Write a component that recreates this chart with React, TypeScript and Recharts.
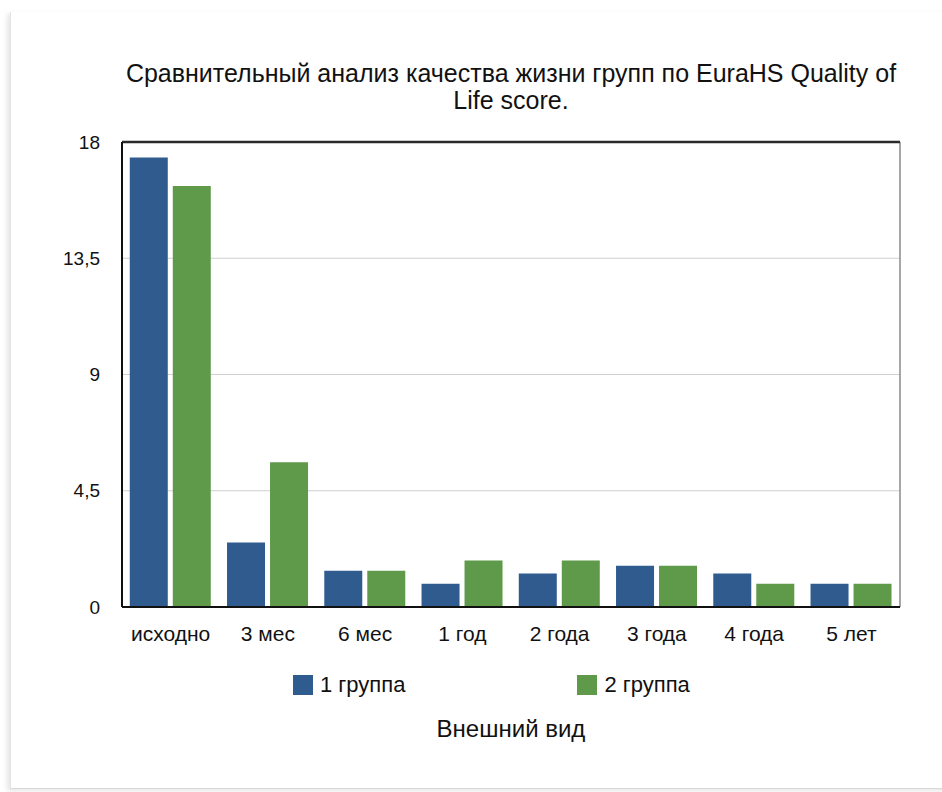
import { Bar, BarChart, CartesianGrid, Label, Legend, ReferenceLine, XAxis, YAxis } from 'recharts';

const categories = ['исходно', '3 мес', '6 мес', '1 год', '2 года', '3 года', '4 года', '5 лет'];
const group1 = [17.4, 2.5, 1.4, 0.9, 1.3, 1.6, 1.3, 0.9];
const group2 = [16.3, 5.6, 1.4, 1.8, 1.8, 1.6, 0.9, 0.9];
const yTicks = [0, 4.5, 9, 13.5, 18];

const BLUE = '#2f5b8f';
const GREEN = '#5e9a4a';
const FONT = '"Liberation Sans", Arial, Helvetica, sans-serif';

const data = categories.map((name, i) => ({ name, g1: group1[i], g2: group2[i] }));

const yTickStyle = { fontSize: 19, fill: '#111', fontFamily: FONT };
const xTickStyle = { fontSize: 21, fill: '#111', fontFamily: FONT };

function LegendRow({ payload }: any) {
  return (
    <div style={{ display: 'flex', gap: 172, fontFamily: FONT, fontSize: 22, lineHeight: '25px', color: '#111' }}>
      {(payload || []).map((p: any) => (
        <div key={p.value} style={{ display: 'flex', alignItems: 'center' }}>
          <span style={{ width: 20, height: 20, background: p.color, display: 'inline-block', marginRight: 7 }} />
          {p.value}
        </div>
      ))}
    </div>
  );
}

// right edge of the plot box, taken from the chart's own offset
const rightEdge = ({ offset }: any) => [offset.left + offset.width];

export default function App() {
  return (
    <div style={{ position: 'absolute', left: 0, top: 0, width: 942, height: 792, background: '#fff', overflow: 'hidden' }}>
      {/* card edge */}
      <div
        style={{
          position: 'absolute',
          left: 10,
          top: 12,
          right: -10,
          bottom: 3,
          borderLeft: '1px solid #e4e4e4',
          borderBottom: '1px solid #d8d8d8',
          boxShadow: '-3px 2px 5px rgba(0,0,0,0.10)',
        }}
      />
      <div
        style={{
          position: 'absolute',
          left: 111,
          top: 60,
          width: 800,
          textAlign: 'center',
          fontFamily: FONT,
          fontSize: 25,
          lineHeight: '27px',
          color: '#111',
          whiteSpace: 'nowrap',
        }}
      >
        Сравнительный анализ качества жизни групп по EuraHS Quality of
        <br />
        Life score.
      </div>
      <div style={{ position: 'absolute', left: 0, top: 0 }}>
        <BarChart
          width={942}
          height={792}
          data={data}
          margin={{ top: 142, right: 42, left: 62, bottom: 50 }}
          barCategoryGap="8%"
          barGap={5}
        >
          <CartesianGrid horizontal vertical={false} stroke="#cfcfcf" strokeWidth={1} />
          <CartesianGrid
            horizontal={false}
            vertical
            verticalCoordinatesGenerator={rightEdge}
            stroke="#8a8a8a"
            strokeWidth={1.5}
          />
          <XAxis
            dataKey="name"
            height={135}
            tick={xTickStyle}
            tickLine={false}
            tickSize={0}
            tickMargin={19}
            axisLine={{ stroke: '#111', strokeWidth: 2 }}
          >
            <Label
              value="Внешний вид"
              position="insideBottom"
              offset={5}
              style={{ fontSize: 24, fill: '#111', fontFamily: FONT }}
            />
          </XAxis>
          <YAxis
            domain={[0, 18]}
            ticks={yTicks}
            width={60}
            tick={yTickStyle}
            tickLine={false}
            tickSize={0}
            tickMargin={22}
            interval={0}
            tickFormatter={(v: number) => String(v).replace('.', ',')}
            axisLine={{ stroke: '#111', strokeWidth: 2 }}
          />
          <ReferenceLine y={18} stroke="#2a2a2a" strokeWidth={2.5} />
          <Legend
            layout="horizontal"
            verticalAlign="middle"
            align="center"
            wrapperStyle={{ left: 293, top: 672, width: 520 }}
            content={LegendRow}
          />
          <Bar dataKey="g1" name="1 группа" fill={BLUE} isAnimationActive={false} />
          <Bar dataKey="g2" name="2 группа" fill={GREEN} isAnimationActive={false} />
        </BarChart>
      </div>
    </div>
  );
}
